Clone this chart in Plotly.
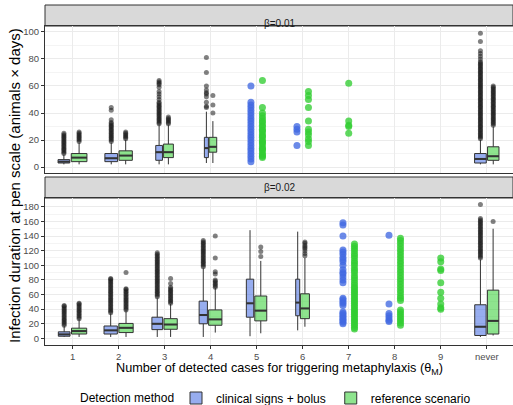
import plotly.graph_objects as go

# ---------------- data ----------------
categories = ["1", "2", "3", "4", "5", "6", "7", "8", "9", "never"]
method_names = ["clinical signs + bolus", "reference scenario"]
panel_labels = ["β=0.01", "β=0.02"]

# ---- panel β=0.01 : boxplots ----
top_box_cats = ["1", "2", "3", "4", "never"]
top_clin_low = [2, 2, 2, 3, 2]
top_clin_q1 = [3, 4, 5, 7, 3]
top_clin_med = [4, 6.5, 11, 14, 6]
top_clin_q3 = [5.5, 10, 16, 22, 10]
top_clin_high = [9, 18, 31, 41, 20]
top_ref_low = [2, 2, 2, 3, 2]
top_ref_q1 = [4, 5, 7, 11, 5]
top_ref_med = [7, 8.5, 11, 15, 8]
top_ref_q3 = [10, 12, 17, 22, 15]
top_ref_high = [18, 20, 31, 34, 30]

top_clin_outliers = {
    "1": [10, 11, 12, 13, 14, 15, 16, 17, 18, 19, 20, 21, 22, 23, 24, 25],
    "2": [19, 20, 21, 22, 23, 24, 25, 26, 27, 28, 29, 30, 31, 32, 33, 35, 42, 44],
    "3": [32, 33, 34, 35, 36, 37, 38, 39, 40, 41, 42, 43, 44, 45, 46, 47, 48, 50,
          52, 54, 56, 59, 61, 62, 63, 64],
    "4": [44, 45, 48, 52, 54, 55, 57, 60, 70, 81],
    "never": [21, 22, 23, 24, 25, 26, 27, 28, 29, 30, 31, 32, 33, 34, 35, 36, 37,
              38, 39, 40, 41, 42, 43, 44, 45, 46, 47, 48, 49, 50, 51, 52, 53, 54,
              55, 56, 57, 58, 59, 60, 61, 62, 63, 64, 65, 66, 67, 68, 69, 70, 71,
              72, 73, 74, 75, 76, 77, 78, 80, 82, 84, 86, 93, 99],
}
top_ref_outliers = {
    "1": [19, 20, 21, 22, 23, 24, 25, 26],
    "2": [21, 22, 23, 24, 25, 26],
    "3": [32, 33, 34, 35, 36, 37],
    "4": [40, 46, 53],
    "never": [31, 32, 33, 34, 35, 36, 37, 38, 39, 40, 41, 42, 43, 44, 45, 46, 47,
              48, 49, 50, 51, 52, 53, 54, 55, 56, 57, 58, 59, 60],
}
# ---- panel β=0.01 : individual points (few simulations) ----
top_clin_points = {
    "5": [4, 6, 8, 10, 12, 14, 16, 18, 20, 22, 24, 26, 28, 30, 32, 34, 36, 38, 40,
          42, 44, 46, 48, 60],
    "6": [16, 26, 28, 30],
}
top_ref_points = {
    "5": [7, 8, 9, 10, 12, 13, 14, 15, 17, 18, 19, 20, 22, 23, 24, 26, 27, 28, 30,
          31, 33, 34, 36, 38, 40, 44, 64],
    "6": [16, 19, 21, 24, 26, 28, 34, 44, 50, 53, 56],
    "7": [25, 30, 31, 34, 62],
}

# ---- panel β=0.02 : boxplots ----
bot_box_cats = ["1", "2", "3", "4", "5", "6", "never"]
bot_clin_low = [2, 2, 2, 2, 3, 11, 2]
bot_clin_q1 = [3, 6, 12, 20, 29, 31, 4]
bot_clin_med = [5.5, 11, 20, 32, 48, 49, 16]
bot_clin_q3 = [9, 17, 29, 51, 81, 81, 46]
bot_clin_high = [17, 34, 55, 96, 148, 146, 108]
bot_ref_low = [2, 2, 2, 8, 7, 16, 4]
bot_ref_q1 = [6, 8, 12.5, 18, 24, 27, 6]
bot_ref_med = [10, 14.5, 19, 26, 38, 41, 24]
bot_ref_q3 = [14, 20.5, 27, 39, 58, 61, 66]
bot_ref_high = [26, 38, 47, 69, 106, 110, 150]

bot_clin_outliers = {
    "1": [18, 20, 22, 24, 26, 28, 30, 32, 34, 36, 38, 40, 42, 44, 45],
    "2": [35, 37, 39, 41, 43, 45, 47, 49, 51, 53, 55, 57, 59, 61, 63, 65, 67, 69,
          71, 73, 75, 77, 79, 81, 82],
    "3": [57, 59, 61, 63, 65, 67, 69, 71, 73, 75, 77, 79, 81, 83, 85, 87, 89, 91,
          93, 95, 97, 99, 101, 103, 105, 107, 109, 111, 113, 115, 117],
    "4": [98, 100, 102, 104, 106, 108, 110, 112, 114, 116, 118, 120, 122, 124,
          126, 128, 130, 132, 134],
    "5": [],
    "6": [],
    "never": [110, 112, 114, 116, 118, 120, 122, 124, 126, 128, 130, 132, 134,
              136, 138, 140, 142, 144, 146, 148, 150, 152, 154, 156, 158, 160,
              162, 164, 183],
}
bot_ref_outliers = {
    "1": [27, 29, 31, 33, 35, 37, 39, 41, 43, 45, 47, 48],
    "2": [39, 41, 43, 45, 47, 49, 51, 53, 55, 57, 59, 61, 63, 65, 67, 68, 90],
    "3": [48, 50, 52, 54, 56, 58, 60, 62, 64, 66, 68, 70, 75, 82],
    "4": [70, 72, 74, 76, 78, 80, 88, 91, 110, 140],
    "5": [112, 119, 125],
    "6": [113, 116, 120, 123, 125, 127, 130, 132],
    "never": [160],
}
bot_clin_points = {
    "7": [20, 22, 24, 26, 28, 30, 32, 34, 36, 45, 48, 50, 53, 55, 76, 80, 84, 88,
          90, 94, 100, 105, 108, 111, 115, 118, 121, 140, 155, 158],
    "8": [23, 25, 28, 31, 34, 47, 141],
}
bot_ref_points = {
    "7": [13, 15, 18, 20, 23, 25, 28, 30, 33, 35, 38, 40, 43, 45, 48, 50, 53, 55,
          58, 60, 63, 65, 68, 70, 73, 76, 80, 83, 86, 90, 93, 96, 100, 103, 106,
          110, 113, 116, 120, 123, 126, 129],
    "8": [18, 21, 24, 27, 30, 33, 36, 39, 52, 55, 58, 62, 66, 70, 74, 78, 82, 86,
          90, 94, 98, 102, 106, 110, 114, 118, 122, 126, 130, 134, 137],
    "9": [40, 42, 47, 55, 63, 76, 93, 95, 105, 110],
}

# ---------------- style ----------------
FONT = "Liberation Sans, Arial, sans-serif"
BOX_FILL = ["rgba(65,105,225,0.55)", "rgba(50,205,50,0.55)"]
PT_COL = ["rgba(65,105,225,0.78)", "rgba(50,205,50,0.78)"]
OUT_COL = "rgba(25,25,25,0.55)"
LINE = "#333333"
GRID = "#EBEBEB"
# drawn box widths (varwidth), clinical / reference
top_widths = {"1": (0.254, 0.341), "2": (0.276, 0.289), "3": (0.146, 0.217),
              "4": (0.087, 0.167), "never": (0.254, 0.248)}
bot_widths = {"1": (0.254, 0.33), "2": (0.289, 0.311), "3": (0.233, 0.289),
              "4": (0.18, 0.289), "5": (0.16, 0.26), "6": (0.087, 0.196),
              "never": (0.248, 0.248)}
PAD = 0.9
PT_DODGE = 0.125

fig = go.Figure()


def cat_pos(c):
    return categories.index(c) + 1


def add_boxes(cats, stats, outliers, widths, xa, ya):
    med_x = []
    med_y = []
    for i, c in enumerate(cats):
        wb, wg = widths[c]
        sb, sg = wb / PAD, wg / PAD
        tot = sb + sg
        centers = [cat_pos(c) - tot / 2 + sb / 2, cat_pos(c) + tot / 2 - sg / 2]
        ws = [wb, wg]
        for m in range(2):
            low, q1, med, q3, high = [s[i] for s in stats[m]]
            fig.add_trace(go.Box(
                x=[centers[m]], lowerfence=[low], q1=[q1], median=[med], q3=[q3],
                upperfence=[high], width=ws[m], boxpoints=False,
                fillcolor=BOX_FILL[m], line=dict(color=LINE, width=1),
                whiskerwidth=0, name=method_names[m],
                showlegend=False, xaxis=xa, yaxis=ya, hoverinfo="skip"))
            med_x += [centers[m] - ws[m] / 2, centers[m] + ws[m] / 2, None]
            med_y += [med, med, None]
            ov = outliers[m].get(c, [])
            if ov:
                fig.add_trace(go.Scatter(
                    x=[centers[m]] * len(ov), y=ov, mode="markers",
                    marker=dict(color=OUT_COL, size=5, line=dict(width=0)),
                    showlegend=False, xaxis=xa, yaxis=ya, hoverinfo="skip"))
    fig.add_trace(go.Scatter(x=med_x, y=med_y, mode="lines",
                             line=dict(color=LINE, width=2), showlegend=False,
                             xaxis=xa, yaxis=ya, hoverinfo="skip"))


def add_points(points, xa, ya):
    for c in categories:
        present = [m for m in range(2) if c in points[m]]
        for m in present:
            off = 0 if len(present) == 1 else (-PT_DODGE if m == 0 else PT_DODGE)
            vals = points[m][c]
            fig.add_trace(go.Scatter(
                x=[cat_pos(c) + off] * len(vals), y=vals, mode="markers",
                marker=dict(color=PT_COL[m], size=7, line=dict(width=0)),
                showlegend=False, xaxis=xa, yaxis=ya, hoverinfo="skip"))


top_stats = [[top_clin_low, top_clin_q1, top_clin_med, top_clin_q3, top_clin_high],
             [top_ref_low, top_ref_q1, top_ref_med, top_ref_q3, top_ref_high]]
bot_stats = [[bot_clin_low, bot_clin_q1, bot_clin_med, bot_clin_q3, bot_clin_high],
             [bot_ref_low, bot_ref_q1, bot_ref_med, bot_ref_q3, bot_ref_high]]

add_boxes(top_box_cats, top_stats, [top_clin_outliers, top_ref_outliers],
          top_widths, "x", "y")
add_points([top_clin_points, top_ref_points], "x", "y")
add_boxes(bot_box_cats, bot_stats, [bot_clin_outliers, bot_ref_outliers],
          bot_widths, "x2", "y2")
add_points([bot_clin_points, bot_ref_points], "x2", "y2")

# legend entries
for m in range(2):
    fig.add_trace(go.Box(
        x=[-5], y=[-50], name=method_names[m], fillcolor=BOX_FILL[m],
        line=dict(color=LINE, width=1), showlegend=True, xaxis="x2", yaxis="y2",
        hoverinfo="skip"))

H_PLOT = 340.0


def py(px):
    return (345 - px) / H_PLOT


xcommon = dict(range=[0.4, 10.57], tickmode="array",
               tickvals=list(range(1, len(categories) + 1)), ticktext=categories,
               showgrid=True, gridcolor=GRID, gridwidth=1, zeroline=False,
               showline=True, mirror=True, linecolor=LINE, linewidth=1)
ycommon = dict(showgrid=True, gridcolor=GRID, gridwidth=1, zeroline=False,
               showline=True, mirror=True, linecolor=LINE, linewidth=1,
               ticks="outside", ticklen=3, tickcolor=LINE,
               tickfont=dict(family=FONT, size=9.5, color="#4D4D4D"))

fig.update_layout(
    width=513, height=405,
    margin=dict(l=45, r=0, t=5, b=60, autoexpand=False),
    paper_bgcolor="white", plot_bgcolor="white",
    font=dict(family=FONT, color="#000000"),
    xaxis=dict(domain=[0, 1], anchor="y", showticklabels=False, ticks="", **xcommon),
    yaxis=dict(domain=[py(173), py(26)], anchor="x", range=[-4.4, 104.4],
               tickvals=[0, 20, 40, 60, 80, 100],
               minor=dict(showgrid=True, gridcolor="#F4F4F4", gridwidth=0.6,
                          tickvals=[10, 30, 50, 70, 90]),
               **ycommon),
    xaxis2=dict(domain=[0, 1], anchor="y2", ticks="outside", ticklen=3,
                tickcolor=LINE, tickfont=dict(family=FONT, size=9.5, color="#4D4D4D"),
                **xcommon),
    yaxis2=dict(domain=[0, py(198)], anchor="x2", range=[-9, 192],
                tickvals=[0, 20, 40, 60, 80, 100, 120, 140, 160, 180],
                minor=dict(showgrid=True, gridcolor="#F4F4F4", gridwidth=0.6,
                           tickvals=[10, 30, 50, 70, 90, 110, 130, 150, 170]),
                **ycommon),
    showlegend=True,
    legend=dict(orientation="h", xref="container", yref="container",
                x=176 / 513, xanchor="left", y=(405 - 398) / 405,
                yanchor="middle", font=dict(family=FONT, size=12),
                itemwidth=30, borderwidth=0, bgcolor="rgba(0,0,0,0)"),
    boxmode="overlay",
)

# strips
for (top, bot), lab in zip([(5, 26), (177, 198)], panel_labels):
    fig.add_shape(type="rect", xref="paper", yref="paper", x0=0, x1=1,
                  y0=py(bot), y1=py(top), fillcolor="#D9D9D9",
                  line=dict(color=LINE, width=1), layer="below")
    fig.add_annotation(text=lab, xref="paper", yref="paper", x=0.5,
                       y=py((top + bot) / 2), showarrow=False,
                       font=dict(family=FONT, size=10, color="#1A1A1A"))

fig.add_annotation(text="Number of detected cases for triggering metaphylaxis (θ<sub>M</sub>)",
                   xref="paper", yref="paper", x=0.5, y=py(369), showarrow=False,
                   yanchor="middle", font=dict(family=FONT, size=12.7, color="#000000"))
fig.add_annotation(text="Detection method", xref="paper", yref="paper",
                   x=(176 - 45) / 468, xanchor="right", y=py(398), yanchor="middle",
                   showarrow=False, font=dict(family=FONT, size=12, color="#000000"))
fig.add_annotation(text="Infection duration at pen scale (animals × days)",
                   xref="paper", yref="paper", x=0, xshift=-31, y=py(186),
                   textangle=-90, showarrow=False, xanchor="center", yanchor="middle",
                   font=dict(family=FONT, size=15, color="#000000"))

fig.write_html("out.html")
